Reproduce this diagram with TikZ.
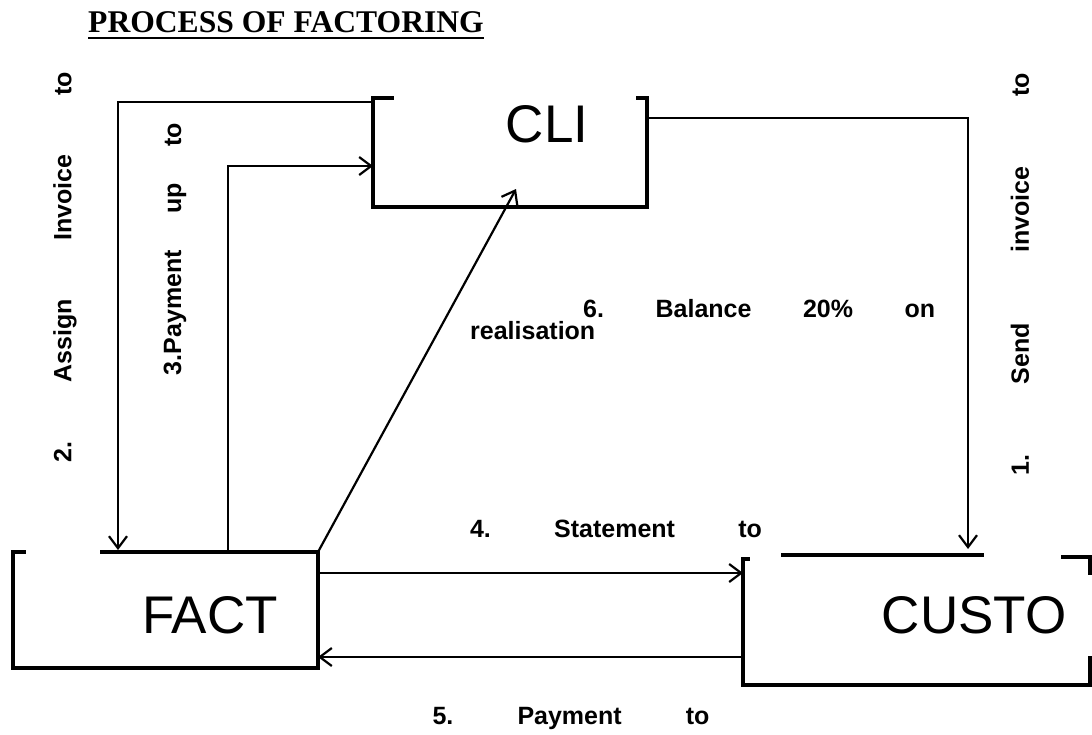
\documentclass[tikz,border=0pt]{standalone}
\usepackage{fontspec}
\setmainfont{Liberation Serif}
\newfontfamily\arialf{Liberation Sans}
\usetikzlibrary{arrows.meta}
\begin{document}
\begin{tikzpicture}[x=1pt,y=-1pt,
  boxline/.style={line width=4pt, line cap=rect, line join=miter},
  conn/.style={line width=2.2pt},
  arr/.style={conn,-{Straight Barb[length=12pt,width=18pt,line width=2.2pt]}},
  area/.style={draw=none, inner sep=0pt, outer sep=0pt},
  boxname/.style={font=\arialf\fontsize{53}{60}\selectfont, inner sep=0pt},
  lbl/.style={font=\arialf\bfseries\fontsize{25}{22}\selectfont, inner sep=0pt},
]
\useasboundingbox (0,0) rectangle (1092,734);

% title
\node[font=\bfseries\fontsize{31.6}{34}\selectfont, inner sep=0pt, anchor=base west] (title) at (88,32) {PROCESS OF FACTORING};
\draw[line width=2.8pt] ([yshift=-6pt]title.base west) -- ([yshift=-6pt]title.base east);

% box areas
\node[area, minimum width=274pt, minimum height=109pt] (cli) at (510,152.5) {};
\node[area, minimum width=305pt, minimum height=116pt] (fact) at (165.5,610) {};
\node[area, minimum width=347pt, minimum height=128pt] (custo) at (916.5,621) {};

% box names
\node[boxname] (clit) at (547,124) {CLI};
\node[boxname] (factt) at (210,615) {FACT};
\node[boxname] (custot) at (974,615) {CUSTO};

% CLI border (top partly covered)
\draw[boxline] ([xshift=19pt]cli.north west) -- (cli.north west) -- (cli.south west) -- (cli.south east) -- (cli.north east) -- ([xshift=-9pt]cli.north east);

% FACT border
\draw[boxline] ([xshift=11pt]fact.north west) -- (fact.north west) -- (fact.south west) -- (fact.south east) -- (fact.north east) -- ([xshift=89pt]fact.north west);

% CUSTO border
\draw[boxline] ([xshift=5pt,yshift=-2pt]custo.north west) -- ([yshift=-2pt]custo.north west) -- (custo.south west) -- (custo.south east) -- ([yshift=27pt]custo.south east);
\draw[boxline] ([xshift=40pt,yshift=2pt]custo.north west) -- ([xshift=239pt,yshift=2pt]custo.north west);
\draw[boxline] ([xshift=-27pt]custo.north east) -- (custo.north east) -- ([yshift=-16pt]custo.north east);

% connectors
\coordinate (s4) at ([yshift=-21pt]fact.north east);
\coordinate (s5) at ([yshift=28pt]custo.south west);
\draw[arr, shorten >=2pt] ([yshift=-4pt]cli.north west) -| ([xshift=105pt]fact.north west);
\draw[arr] ([xshift=215pt]fact.north west) |- ([yshift=-68pt]cli.north west);
\draw[arr] (fact.north east) -- ([xshift=6pt,yshift=18pt]cli.south);
\draw[arr, shorten >=8pt] ([yshift=-20pt]cli.north east) -| ([xshift=225pt]custo.north west);
\draw[arr] (s4) -- (s4 -| custo.west);
\draw[arr] (s5) -- (s5 -| fact.east);

% labels
\node[lbl, rotate=90] (l2) at (65,267) {\makebox[390pt]{2.\hfill Assign\hfill Invoice\hfill to}};
\node[lbl, rotate=90] (l3) at (175,249) {\makebox[252pt]{3.Payment\hfill up\hfill to}};
\node[lbl, rotate=90] (l1) at (1020,274) {\makebox[402pt]{1.\hfill Send\hfill invoice\hfill to}};
\node[lbl] (l4) at (616,529) {\makebox[292pt]{4.\hfill Statement\hfill to}};
\node[lbl] (l5) at (571,718) {\makebox[277pt]{5.\hfill Payment\hfill to}};
\node[lbl, align=left, anchor=north west] (l6) at (470,299) {\hspace*{113pt}\makebox[352pt]{6.\hfill Balance\hfill 20\%\hfill on}\\realisation};
\end{tikzpicture}
\end{document}
